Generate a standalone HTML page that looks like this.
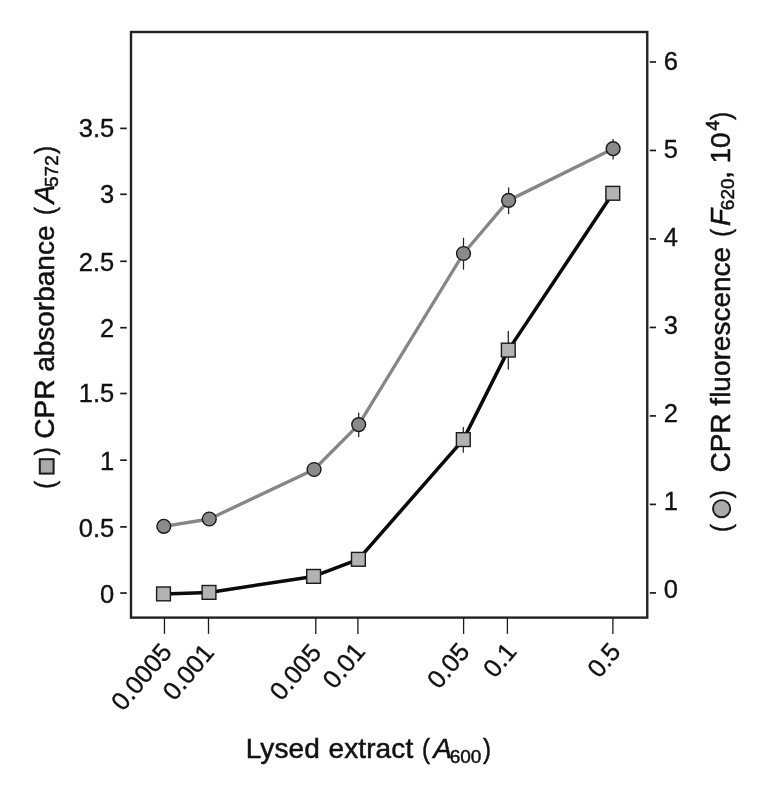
<!DOCTYPE html><html><head><meta charset="utf-8"><style>html,body{margin:0;padding:0;background:#fff;}svg{display:block;}text{font-family:"Liberation Sans", Arial, Helvetica, sans-serif;fill:#111;stroke:#111;stroke-width:0.35px;}.lb{stroke-width:0.5px;}</style></head><body>
<svg width="766" height="788" viewBox="0 0 766 788">
<rect x="0" y="0" width="766" height="788" fill="#fff"/>
<rect x="131" y="32" width="516.25" height="585.6" fill="none" stroke="#222" stroke-width="2.4"/>
<line x1="120.2" x2="126.8" y1="593.05" y2="593.05" stroke="#1a1a1a" stroke-width="1.7"/>
<text x="114.3" y="603.20" font-size="25.5" text-anchor="end">0</text>
<line x1="120.2" x2="126.8" y1="526.90" y2="526.90" stroke="#1a1a1a" stroke-width="1.7"/>
<text x="114.3" y="536.90" font-size="25.5" text-anchor="end">0.5</text>
<line x1="120.2" x2="126.8" y1="460.20" y2="460.20" stroke="#1a1a1a" stroke-width="1.7"/>
<text x="114.3" y="469.80" font-size="25.5" text-anchor="end">1</text>
<line x1="120.2" x2="126.8" y1="393.50" y2="393.50" stroke="#1a1a1a" stroke-width="1.7"/>
<text x="114.3" y="401.80" font-size="25.5" text-anchor="end">1.5</text>
<line x1="120.2" x2="126.8" y1="327.70" y2="327.70" stroke="#1a1a1a" stroke-width="1.7"/>
<text x="114.3" y="337.10" font-size="25.5" text-anchor="end">2</text>
<line x1="120.2" x2="126.8" y1="261.30" y2="261.30" stroke="#1a1a1a" stroke-width="1.7"/>
<text x="114.3" y="270.50" font-size="25.5" text-anchor="end">2.5</text>
<line x1="120.2" x2="126.8" y1="194.30" y2="194.30" stroke="#1a1a1a" stroke-width="1.7"/>
<text x="114.3" y="202.60" font-size="25.5" text-anchor="end">3</text>
<line x1="120.2" x2="126.8" y1="128.40" y2="128.40" stroke="#1a1a1a" stroke-width="1.7"/>
<text x="114.3" y="137.20" font-size="25.5" text-anchor="end">3.5</text>
<line x1="649.8" x2="656" y1="592.90" y2="592.90" stroke="#1a1a1a" stroke-width="1.7"/>
<text x="663.7" y="598.20" font-size="25.5">0</text>
<line x1="649.8" x2="656" y1="504.41" y2="504.41" stroke="#1a1a1a" stroke-width="1.7"/>
<text x="663.7" y="510.20" font-size="25.5">1</text>
<line x1="649.8" x2="656" y1="415.92" y2="415.92" stroke="#1a1a1a" stroke-width="1.7"/>
<text x="663.7" y="422.20" font-size="25.5">2</text>
<line x1="649.8" x2="656" y1="327.43" y2="327.43" stroke="#1a1a1a" stroke-width="1.7"/>
<text x="663.7" y="334.20" font-size="25.5">3</text>
<line x1="649.8" x2="656" y1="238.94" y2="238.94" stroke="#1a1a1a" stroke-width="1.7"/>
<text x="663.7" y="246.20" font-size="25.5">4</text>
<line x1="649.8" x2="656" y1="150.45" y2="150.45" stroke="#1a1a1a" stroke-width="1.7"/>
<text x="663.7" y="158.20" font-size="25.5">5</text>
<line x1="649.8" x2="656" y1="61.96" y2="61.96" stroke="#1a1a1a" stroke-width="1.7"/>
<text x="663.7" y="70.20" font-size="25.5">6</text>
<line x1="164.45" x2="164.45" y1="617.6" y2="633.9" stroke="#1a1a1a" stroke-width="1.3"/>
<text x="173.2" y="652.5" font-size="25.5" text-anchor="end" transform="rotate(-50 173.2 652.5)">0.0005</text>
<line x1="208.5" x2="208.5" y1="617.6" y2="633.9" stroke="#1a1a1a" stroke-width="1.3"/>
<text x="215.5" y="653.2" font-size="25.5" text-anchor="end" transform="rotate(-50 215.5 653.2)">0.001</text>
<line x1="315.8" x2="315.8" y1="617.6" y2="633.9" stroke="#1a1a1a" stroke-width="1.3"/>
<text x="322.6" y="653.2" font-size="25.5" text-anchor="end" transform="rotate(-50 322.6 653.2)">0.005</text>
<line x1="357.9" x2="357.9" y1="617.6" y2="633.9" stroke="#1a1a1a" stroke-width="1.3"/>
<text x="366.5" y="652.2" font-size="25.5" text-anchor="end" transform="rotate(-50 366.5 652.2)">0.01</text>
<line x1="463.6" x2="463.6" y1="617.6" y2="633.9" stroke="#1a1a1a" stroke-width="1.3"/>
<text x="470.9" y="652.2" font-size="25.5" text-anchor="end" transform="rotate(-50 470.9 652.2)">0.05</text>
<line x1="507.4" x2="507.4" y1="617.6" y2="633.9" stroke="#1a1a1a" stroke-width="1.3"/>
<text x="517.8" y="652.2" font-size="25.5" text-anchor="end" transform="rotate(-50 517.8 652.2)">0.1</text>
<line x1="612.9" x2="612.9" y1="617.6" y2="633.9" stroke="#1a1a1a" stroke-width="1.3"/>
<text x="622.0" y="652.2" font-size="25.5" text-anchor="end" transform="rotate(-50 622.0 652.2)">0.5</text>
<polyline points="163.8,526.3 209.3,519.0 314.1,469.5 358.7,424.6 463.5,253.5 508.6,200.4 613.1,148.7" fill="none" stroke="#868686" stroke-width="3.3" stroke-linejoin="round"/>
<polyline points="163.5,593.9 209.0,592.4 313.6,576.4 358.4,559.3 463.3,439.6 508.3,350.1 612.8,193.3" fill="none" stroke="#0a0a0a" stroke-width="3.5" stroke-linejoin="round"/>
<line x1="358.7" x2="358.7" y1="412.7" y2="437.1" stroke="#222" stroke-width="1.25"/>
<line x1="463.5" x2="463.5" y1="237.8" y2="269.7" stroke="#222" stroke-width="1.25"/>
<line x1="508.6" x2="508.6" y1="187.4" y2="214.0" stroke="#222" stroke-width="1.25"/>
<line x1="613.1" x2="613.1" y1="138.9" y2="159.4" stroke="#222" stroke-width="1.25"/>
<line x1="463.3" x2="463.3" y1="426.9" y2="452.8" stroke="#222" stroke-width="1.25"/>
<line x1="508.3" x2="508.3" y1="331.0" y2="369.5" stroke="#222" stroke-width="1.25"/>
<circle cx="163.8" cy="526.3" r="6.9" fill="#8a8a8a" stroke="#1a1a1a" stroke-width="1.4"/>
<circle cx="209.3" cy="519.0" r="6.9" fill="#8a8a8a" stroke="#1a1a1a" stroke-width="1.4"/>
<circle cx="314.1" cy="469.5" r="6.9" fill="#8a8a8a" stroke="#1a1a1a" stroke-width="1.4"/>
<circle cx="358.7" cy="424.6" r="6.9" fill="#8a8a8a" stroke="#1a1a1a" stroke-width="1.4"/>
<circle cx="463.5" cy="253.5" r="6.9" fill="#8a8a8a" stroke="#1a1a1a" stroke-width="1.4"/>
<circle cx="508.6" cy="200.4" r="6.9" fill="#8a8a8a" stroke="#1a1a1a" stroke-width="1.4"/>
<circle cx="613.1" cy="148.7" r="6.9" fill="#8a8a8a" stroke="#1a1a1a" stroke-width="1.4"/>
<rect x="156.60" y="587.00" width="13.8" height="13.8" fill="#b2b2b2" stroke="#1a1a1a" stroke-width="1.4"/>
<rect x="202.10" y="585.50" width="13.8" height="13.8" fill="#b2b2b2" stroke="#1a1a1a" stroke-width="1.4"/>
<rect x="306.70" y="569.50" width="13.8" height="13.8" fill="#b2b2b2" stroke="#1a1a1a" stroke-width="1.4"/>
<rect x="351.50" y="552.40" width="13.8" height="13.8" fill="#b2b2b2" stroke="#1a1a1a" stroke-width="1.4"/>
<rect x="456.40" y="432.70" width="13.8" height="13.8" fill="#b2b2b2" stroke="#1a1a1a" stroke-width="1.4"/>
<rect x="501.40" y="343.20" width="13.8" height="13.8" fill="#b2b2b2" stroke="#1a1a1a" stroke-width="1.4"/>
<rect x="605.90" y="186.40" width="13.8" height="13.8" fill="#b2b2b2" stroke="#1a1a1a" stroke-width="1.4"/>
<text class="lb" transform="rotate(-90) translate(-488.82 54.40) scale(0.86 1)" x="0" y="0" font-size="28">(</text>
<text class="lb" transform="rotate(-90) translate(-455.17 54.40) scale(0.86 1)" x="0" y="0" font-size="28">)</text>
<text class="lb" transform="rotate(-90)" x="-438.75" y="54.40" font-size="28">CPR absorbance</text>
<text class="lb" transform="rotate(-90) translate(-215.02 54.40) scale(0.86 1)" x="0" y="0" font-size="28">(</text>
<text class="lb" transform="rotate(-90)" x="-203.45" y="54.40" font-size="28" font-style="italic">A</text>
<text class="lb" transform="rotate(-90)" x="-186.99" y="58.40" font-size="19">572</text>
<text class="lb" transform="rotate(-90) translate(-153.97 54.40) scale(0.86 1)" x="0" y="0" font-size="28">)</text>
<text class="lb" transform="rotate(-90) translate(-531.92 729.70) scale(0.86 1)" x="0" y="0" font-size="28">(</text>
<text class="lb" transform="rotate(-90) translate(-498.37 729.70) scale(0.86 1)" x="0" y="0" font-size="28">)</text>
<text class="lb" transform="rotate(-90)" x="-472.55" y="729.70" font-size="28">CPR fluorescence</text>
<text class="lb" transform="rotate(-90) translate(-236.82 729.70) scale(0.86 1)" x="0" y="0" font-size="28">(</text>
<text class="lb" transform="rotate(-90)" x="-226.09" y="729.70" font-size="28" font-style="italic">F</text>
<text class="lb" transform="rotate(-90)" x="-210.19" y="734.00" font-size="19">620</text>
<text class="lb" transform="rotate(-90)" x="-178.75" y="729.70" font-size="28">,</text>
<text class="lb" transform="rotate(-90)" x="-163.46" y="729.70" font-size="28">10</text>
<text class="lb" transform="rotate(-90)" x="-130.67" y="719.20" font-size="19">4</text>
<text class="lb" transform="rotate(-90) translate(-119.97 729.70) scale(0.86 1)" x="0" y="0" font-size="28">)</text>
<text class="lb" x="245.67" y="757.80" font-size="28" letter-spacing="0.12" word-spacing="0.6">Lysed extract</text>
<text class="lb" transform="translate(422.08 757.80) scale(0.86 1)" x="0" y="0" font-size="28">(</text>
<text class="lb" x="433.35" y="757.80" font-size="28" font-style="italic">A</text>
<text class="lb" x="449.71" y="763.05" font-size="19">600</text>
<text class="lb" transform="translate(482.93 757.80) scale(0.86 1)" x="0" y="0" font-size="28">)</text>
<rect x="39.8" y="459.2" width="13.8" height="14.4" fill="#aaaaaa" stroke="#1a1a1a" stroke-width="2"/>
<circle cx="721.6" cy="508.7" r="8.6" fill="#aaaaaa" stroke="#1a1a1a" stroke-width="1.9"/>
</svg></body></html>
